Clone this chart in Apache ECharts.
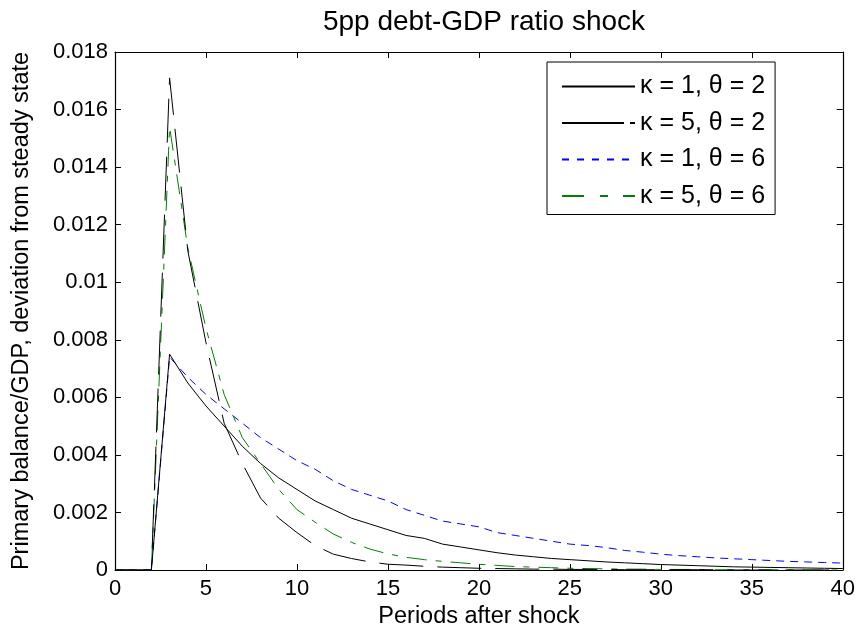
<!DOCTYPE html>
<html>
<head>
<meta charset="utf-8">
<script src="https://cdn.jsdelivr.net/npm/echarts@6/dist/echarts.min.js"></script>
<style>
html,body{margin:0;padding:0;background:#fff;}
#chart{width:858px;height:635px;}
</style>
</head>
<body>
<div id="chart"></div>
<script>
const periods = [0,1,2,3,4,5,6,7,8,9,10,11,12,13,14,15,16,17,18,19,20,21,22,23,24,25,26,27,28,29,30,31,32,33,34,35,36,37,38,39,40];
const seriesNames = ['\u03ba = 1, \u03b8 = 2', '\u03ba = 5, \u03b8 = 2', '\u03ba = 1, \u03b8 = 6', '\u03ba = 5, \u03b8 = 6'];
const k1t2 = [0,0,0,0.0075,0.0065,0.0057,0.0050,0.0043,0.0037,0.0032,0.0028,0.0024,0.0021,0.0018,0.0016,0.0014,0.0012,0.0011,0.0009,0.0008,0.0007,0.0006,0.00052,0.00046,0.0004,0.00036,0.00032,0.00028,0.00025,0.00022,0.00019,0.00017,0.00015,0.00013,0.00011,0.0001,0.00009,0.00008,0.00007,0.00006,0.00005];
const k5t2 = [0,0,0,0.0171,0.0111,0.0079,0.0051,0.0037,0.0025,0.0018,0.0013,0.00085,0.00055,0.0004,0.00028,0.0002,0.00017,0.00013,0.0001,0.00008,0.00006,0.00005,0.00004,0.00003,0.00003,0.00002,0.00002,0.00002,0.00001,0.00001,0.00001,0.00001,0.00001,0.00001,0,0,0,0,0,0,0];
const k1t6 = [0,0,0,0.0074,0.0067,0.0061,0.0056,0.0051,0.0046,0.0042,0.0038,0.0035,0.0031,0.0028,0.0026,0.0024,0.0021,0.0019,0.0017,0.0016,0.0015,0.0013,0.0012,0.0011,0.0010,0.0009,0.00085,0.00078,0.00068,0.00062,0.00055,0.0005,0.00046,0.00042,0.00039,0.00036,0.00033,0.0003,0.00028,0.00026,0.00024];
const k5t6 = [0,0,0,0.0154,0.0112,0.0084,0.0061,0.0046,0.0037,0.0028,0.0021,0.00166,0.00125,0.00096,0.00073,0.00056,0.00044,0.00036,0.0003,0.00025,0.0002,0.00016,0.00012,0.0001,0.00008,0.00006,0.00005,0.00004,0.00003,0.00003,0.00002,0.00002,0.00002,0.00001,0.00001,0.00001,0.00001,0.00001,0,0,0];
const xTicks = [0,5,10,15,20,25,30,35,40];
const yTicks = [0,0.002,0.004,0.006,0.008,0.01,0.012,0.014,0.016,0.018];

const FONT = '"Liberation Sans", Arial, Helvetica, sans-serif';
function pairs(vals){ return periods.map((p,i)=>[p, vals[i]]); }

const chart = echarts.init(document.getElementById('chart'), null, {renderer:'canvas'});
const tickStyle = {show:true, inside:true, length:6, lineStyle:{color:'#000', width:1}};
const option = {
  animation:false,
  backgroundColor:'#fff',
  title:{
    text:'5pp debt-GDP ratio shock',
    left:479, top:3, textAlign:'center',
    textStyle:{fontFamily:FONT, fontSize:28, fontWeight:'normal', color:'#000'}
  },
  legend:{
    orient:'vertical',
    left:547, top:62,
    padding:[12,10,6,14],
    itemWidth:73, itemHeight:25, itemGap:11.5,
    borderColor:'#000', borderWidth:1,
    backgroundColor:'#fff',
    itemStyle:{opacity:0},
    textStyle:{fontFamily:FONT, fontSize:25, color:'#000'},
    data:[
      {name:seriesNames[0], lineStyle:{type:'solid'}},
      {name:seriesNames[1], lineStyle:{type:[62,6]}},
      {name:seriesNames[2], lineStyle:{type:[7,8]}},
      {name:seriesNames[3], lineStyle:{type:[22,16,8,15]}}
    ]
  },
  grid:{left:115, right:15, top:52, bottom:65, containLabel:false},
  xAxis:[{
    type:'value', min:0, max:40, interval:5,
    name:'Periods after shock', nameLocation:'middle', nameGap:34,
    nameTextStyle:{fontFamily:FONT, fontSize:23.5, color:'#000'},
    axisLine:{show:true, onZero:false, lineStyle:{color:'#000', width:1.2}},
    axisTick:tickStyle,
    axisLabel:{fontFamily:FONT, fontSize:22, color:'#000', margin:8, formatter:v=>xTicks.includes(v)?String(v):''},
    splitLine:{show:false}
  },{
    type:'value', min:0, max:40, interval:5, position:'top',
    axisLine:{show:true, onZero:false, lineStyle:{color:'#000', width:1.2}},
    axisTick:tickStyle, axisLabel:{show:false}, splitLine:{show:false}
  }],
  yAxis:[{
    type:'value', min:0, max:0.018, interval:0.002,
    name:'Primary balance/GDP, deviation from steady state', nameLocation:'middle', nameGap:81,
    nameTextStyle:{fontFamily:FONT, fontSize:23.5, color:'#000'},
    axisLine:{show:true, onZero:false, lineStyle:{color:'#000', width:1.2}},
    axisTick:tickStyle,
    axisLabel:{fontFamily:FONT, fontSize:22, color:'#000', margin:7, formatter:v=>{const t=yTicks.find(q=>Math.abs(q-v)<1e-9); return t===undefined?'':String(t);}},
    splitLine:{show:false}
  },{
    type:'value', min:0, max:0.018, interval:0.002, position:'right',
    axisLine:{show:true, onZero:false, lineStyle:{color:'#000', width:1.2}},
    axisTick:tickStyle, axisLabel:{show:false}, splitLine:{show:false}
  }],
  series:[
    {name:seriesNames[0], type:'line', data:pairs(k1t2), symbol:'none', color:'#000',
     lineStyle:{color:'#000', width:1, type:'solid'}, z:4},
    {name:seriesNames[1], type:'line', data:pairs(k5t2), symbol:'none', color:'#000',
     lineStyle:{color:'#000', width:1, type:[44,14]}, z:3},
    {name:seriesNames[2], type:'line', data:pairs(k1t6), symbol:'none', color:'#0000ff',
     lineStyle:{color:'#0000ff', width:1, type:[8,6]}, z:2},
    {name:seriesNames[3], type:'line', data:pairs(k5t6), symbol:'none', color:'#008000',
     lineStyle:{color:'#008000', width:1, type:[20,9,6,9]}, z:1}
  ]
};
chart.setOption(option);
</script>
</body>
</html>
